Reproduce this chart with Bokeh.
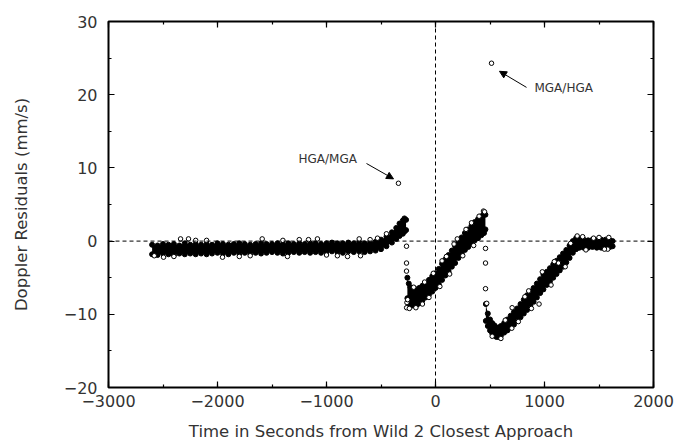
from bokeh.plotting import figure
from bokeh.models import (Range1d, SingleIntervalTicker, LinearAxis, Span, Label,
                          Arrow, NormalHead, CustomJSTickFormatter)
from bokeh.embed import file_html
from bokeh.resources import INLINE

# ---------------- data ----------------
# Segment 1: band before the HGA/MGA switch (time s, upper / lower edge of the band, mm/s)
t1 = [-2600, -2550, -2500, -2450, -2400, -2350, -2300, -2250, -2200, -2150,
      -2100, -2050, -2000, -1950, -1900, -1850, -1800, -1750, -1700, -1650,
      -1600, -1550, -1500, -1450, -1400, -1350, -1300, -1250, -1200, -1150,
      -1100, -1050, -1000, -950, -900, -850, -800, -750, -700, -650,
      -600, -550, -500, -450, -400, -360, -330, -300, -285, -270]
hi1 = [-0.5, -0.6, -0.4, -0.5, -0.4, -0.6, -0.3, -0.5, -0.4, -0.5,
       -0.4, -0.5, -0.3, -0.4, -0.5, -0.4, -0.3, -0.4, -0.5, -0.4,
       -0.3, -0.4, -0.4, -0.3, -0.4, -0.3, -0.4, -0.3, -0.4, -0.3,
       -0.3, -0.4, -0.3, -0.2, -0.3, -0.3, -0.2, -0.3, -0.2, -0.3,
       -0.2, -0.1, 0.2, 0.6, 1.2, 1.8, 2.4, 2.8, 3.1, 2.9]
lo1 = [-1.8, -1.9, -1.7, -1.8, -1.9, -1.7, -1.8, -1.7, -1.8, -1.7,
       -1.8, -1.7, -1.6, -1.7, -1.8, -1.6, -1.7, -1.6, -1.7, -1.6,
       -1.7, -1.6, -1.5, -1.6, -1.7, -1.6, -1.5, -1.6, -1.5, -1.6,
       -1.5, -1.6, -1.5, -1.4, -1.5, -1.6, -1.4, -1.5, -1.4, -1.5,
       -1.4, -1.3, -1.1, -0.7, -0.2, 0.3, 0.7, 1.0, 1.3, 1.5]

# Segment 2: band between the two antenna switches
t2 = [-258, -245, -230, -210, -190, -170, -150, -120, -90, -60,
      -30, 0, 30, 60, 90, 120, 150, 180, 210, 240,
      270, 300, 330, 360, 390, 420, 445, 458]
hi2 = [-5.0, -5.8, -6.3, -6.7, -6.8, -6.6, -6.4, -6.1, -5.8, -5.3,
       -4.8, -4.4, -3.8, -3.1, -2.5, -1.9, -1.3, -0.7, -0.1, 0.5,
       1.1, 1.6, 2.1, 2.6, 3.0, 3.4, 3.7, 3.6]
lo2 = [-7.8, -8.6, -8.8, -8.8, -8.8, -8.7, -8.5, -8.1, -7.7, -7.3,
       -6.9, -6.4, -5.9, -5.3, -4.7, -4.1, -3.5, -3.0, -2.3, -1.7,
       -1.2, -0.8, -0.3, 0.1, 0.4, 0.8, 1.1, 1.6]

# Segment 3: band after the MGA/HGA switch
t3 = [462, 480, 500, 520, 540, 560, 580, 600, 630, 660,
      690, 720, 750, 780, 810, 840, 870, 900, 930, 960,
      990, 1020, 1050, 1080, 1110, 1140, 1170, 1200, 1230, 1260,
      1290, 1320, 1360, 1400, 1440, 1480, 1520, 1560, 1600, 1625]
hi3 = [-8.6, -9.9, -10.7, -11.2, -11.5, -11.8, -11.8, -11.6, -11.2, -10.7,
       -10.2, -9.7, -9.2, -8.6, -8.0, -7.4, -6.9, -6.4, -5.8, -5.2,
       -4.6, -4.2, -3.7, -3.2, -2.7, -2.2, -1.7, -1.2, -0.6, 0.0,
       0.4, 0.3, 0.2, 0.1, 0.2, 0.1, 0.2, 0.2, 0.1, 0.0]
lo3 = [-10.9, -11.6, -12.2, -12.6, -12.9, -13.1, -13.1, -12.9, -12.5, -12.2,
       -11.8, -11.4, -10.9, -10.4, -9.9, -9.4, -8.8, -8.3, -7.7, -7.1,
       -6.6, -6.0, -5.5, -5.0, -4.5, -4.0, -3.5, -2.9, -2.3, -1.6,
       -1.1, -0.9, -0.9, -0.9, -0.8, -0.9, -0.9, -0.8, -0.8, -0.7]

# Single residuals sticking out of the bands (edge roughness)
edge_t = [-2580, -2400, -2100, -1700, -1250, -1000, -700, -600, -450,
          -200, -100, -20, 100, 170, 280, 400, 440,
          -180, -60, 40, 130, 250, 350,
          640, 820, 980, 1090, 1240, 1350, 1500, 1590,
          520, 700, 880, 1060, 1190, 1380, 1580]
edge_r = [-2.0, -2.1, 0.1, -2.0, 0.2, -1.9, 0.3, 0.2, 1.0,
          -6.3, -5.6, -4.4, -2.1, -0.4, 1.6, 3.4, 4.1,
          -9.1, -7.7, -6.2, -4.5, -2.0, -0.6,
          -10.8, -7.6, -4.2, -2.8, -0.3, 0.6, 0.5, 0.5,
          -13.0, -11.9, -9.2, -6.0, -3.5, -1.2, -1.1]

# Isolated residuals drawn as open circles
stray_t = [-2495, -2339, -2266, -2200, -1954, -1800, -1590, -1400, -1358, -1165,
           -1083, -900, -807, -688, -532, -262, -265, -255, -240, -120,
           60, 200, 330, 450, 470, 600, 703, 760, 855, 950,
           1128, 1300, 1450, 1550]
stray_r = [-2.2, 0.3, 0.3, 0.1, -2.2, -2.1, 0.3, 0.1, -2.1, 0.2,
           0.3, -2.0, -2.1, -2.0, 0.4, -8.4, -9.1, -8.0, -9.2, -8.6,
           -2.7, 0.3, 2.5, 4.0, -8.5, -13.3, -9.1, -11.0, -6.8, -8.6,
           -3.0, 0.7, 0.4, -1.1]

# Transition points at the antenna switches
switch_t = [-266, -266, -266, 459, 459, 459]
switch_r = [-0.7, -3.0, -4.1, -1.0, -3.0, -6.5]

# Annotated points
flag_t = [-340, 514]
flag_r = [7.9, 24.3]
flag_text = ["HGA/MGA", "MGA/HGA"]
flag_label_t = [-1257, 908]
flag_label_r = [11.2, 20.9]
arrow_start_t = [-633, 835]
arrow_start_r = [10.6, 21.0]
arrow_end_t = [-385, 587]
arrow_end_r = [8.5, 23.2]

x_ticks_interval = 1000
y_ticks_interval = 10

FONT = "DejaVu Sans"
TXT = "#333333"

p = figure(width=677, height=443, output_backend="svg", toolbar_location=None,
           x_range=Range1d(-3000, 2000), y_range=Range1d(-20, 30),
           x_axis_type=None, y_axis_type=None)
p.min_border_left = 108
p.min_border_right = 24
p.min_border_top = 21
p.min_border_bottom = 56
p.outline_line_color = "black"
p.outline_line_width = 2
p.background_fill_color = "white"
p.border_fill_color = "white"

fmt = CustomJSTickFormatter(code="return tick < 0 ? '\\u2212' + Math.abs(tick) : String(tick);")
empty = CustomJSTickFormatter(code="return '';")


def make_axis(interval, labelled, label=""):
    ax = LinearAxis(ticker=SingleIntervalTicker(interval=interval, num_minor_ticks=2))
    ax.axis_line_color = None
    ax.major_tick_in = 6
    ax.major_tick_out = 0
    ax.minor_tick_in = 3
    ax.minor_tick_out = 0
    ax.major_tick_line_width = 1.2
    ax.minor_tick_line_width = 1.2
    ax.major_tick_line_color = "black"
    ax.minor_tick_line_color = "black"
    if labelled:
        ax.formatter = fmt
        ax.major_label_text_font = FONT
        ax.major_label_text_font_size = "16px"
        ax.major_label_text_color = TXT
        ax.axis_label = label
        ax.axis_label_text_font = FONT
        ax.axis_label_text_font_size = "16.5px"
        ax.axis_label_text_font_style = "normal"
        ax.axis_label_text_color = TXT
    else:
        ax.formatter = empty
        ax.major_label_text_font_size = "0px"
        ax.major_label_standoff = 0
    return ax


xb = make_axis(x_ticks_interval, True, "Time in Seconds from Wild 2 Closest Approach")
xb.major_label_standoff = 7
xb.axis_label_standoff = 12
yl = make_axis(y_ticks_interval, True, "Doppler Residuals (mm/s)")
yl.major_label_standoff = 11
yl.axis_label_standoff = 30
xt = make_axis(x_ticks_interval, False)
yr = make_axis(y_ticks_interval, False)
p.add_layout(xb, "below")
p.add_layout(yl, "left")
p.add_layout(xt, "above")
p.add_layout(yr, "right")

p.add_layout(Span(location=0, dimension="width", line_color="black",
                  line_width=1, line_dash="4 3"))
p.add_layout(Span(location=0, dimension="height", line_color="black",
                  line_width=1, line_dash="4 3"))

band_mk = dict(marker="circle", size=5, line_color="black", line_width=1, fill_color="black")
mk = dict(marker="circle", size=4.5, line_color="black", line_width=1, fill_color="white")
for t, hi, lo in [(t1, hi1, lo1), (t2, hi2, lo2), (t3, hi3, lo3)]:
    p.varea(x=t, y1=lo, y2=hi, fill_color="black")
    p.scatter(t, hi, **band_mk)
    p.scatter(t, lo, **band_mk)

p.scatter(edge_t, edge_r, **mk)
p.scatter(stray_t, stray_r, **mk)
p.scatter(switch_t, switch_r, **mk)
p.scatter(flag_t, flag_r, **mk)

for i in range(len(flag_text)):
    p.add_layout(Label(x=flag_label_t[i], y=flag_label_r[i], text=flag_text[i],
                       text_font=FONT, text_font_size="12px", text_color=TXT,
                       text_baseline="middle", text_align="left"))
    p.add_layout(Arrow(end=NormalHead(size=7, fill_color="black", line_color="black"),
                       x_start=arrow_start_t[i], y_start=arrow_start_r[i],
                       x_end=arrow_end_t[i], y_end=arrow_end_r[i],
                       line_color="black", line_width=1))

open("out.html", "w").write(file_html(p, INLINE))
